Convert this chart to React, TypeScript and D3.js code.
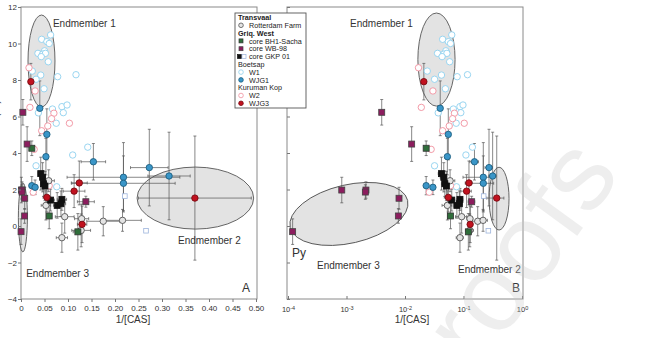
import { useEffect, useRef } from "react";
import * as d3 from "d3";

// points are [x, y, xErr, yErr]
const rotterdam = [
  [0.059, 2.48, 0.012, 0.6],
  [0.053, 1.13, 0.01, 0.8],
  [0.093, 0.51, 0.02, 0.9],
  [0.129, 0.4, 0.015, 0.8],
  [0.128, -0.24, 0.02, 0.9],
  [0.087, -0.64, 0.012, 0.8],
  [0.175, 0.26, 0.035, 0.8],
  [0.216, 0.31, 0.04, 0.6],
];
const bh1Sacha = [
  [0.023, 4.26, 0, 0.4],
  [0.06, 0.55, 0.005, 0.7],
  [0.121, -0.32, 0.01, 1.0],
];
const wb98 = [
  [0.004, 6.23, 0, 0.7],
  [0.013, 4.49, 0, 0.95],
  [0.00083, 1.97, 0, 0.7],
  [0.00215, 1.97, 0, 0.45],
  [0.0021, 1.86, 0, 0.4],
  [0.0079, 1.52, 0, 0.6],
  [0.0077, 0.55, 0, 0.4],
  [0.00012, -0.31, 0, 0.7],
  [0.138, 1.33, 0.018, 0.3],
];
const gkp01 = [
  [0.042, 2.87, 0.005, 0.9],
  [0.046, 2.67, 0.006, 0.8],
  [0.048, 2.32, 0.006, 0.7],
  [0.051, 2.19, 0.006, 0.8],
  [0.063, 1.42, 0.008, 0.6],
  [0.087, 1.46, 0.01, 0.6],
  [0.077, 1.13, 0.008, 0.7],
  [0.085, 1.22, 0.01, 0.7],
];
const gkp01Open = [
  [0.221, 1.64, 0, 0],
  [0.266, -0.26, 0, 0],
];
const w1 = [
  [0.063, 10.47], [0.044, 10.23], [0.055, 10.1], [0.06, 10.0], [0.05, 9.6],
  [0.036, 9.46], [0.046, 9.42], [0.052, 9.46], [0.043, 9.28], [0.058, 9.0],
  [0.024, 8.49], [0.042, 8.27], [0.032, 8.04], [0.078, 8.18], [0.117, 8.29],
  [0.049, 7.52], [0.067, 6.41], [0.087, 6.54], [0.098, 6.63], [0.09, 6.21],
  [0.075, 5.63], [0.142, 4.32], [0.11, 3.89], [0.032, 3.3], [0.076, 2.15],
  [0.037, 6.2],
].map((d) => [d[0], d[1], 0, 0]);
const wjg1 = [
  [0.04, 6.45, 0, 1.5],
  [0.055, 5.02, 0, 1.4],
  [0.053, 3.8, 0, 1.0],
  [0.154, 3.52, 0.026, 1.0],
  [0.273, 3.2, 0.04, 2.1],
  [0.315, 2.74, 0.045, 2.4],
  [0.218, 2.67, 0.12, 1.9],
  [0.218, 2.34, 0.11, 1.5],
  [0.023, 2.21, 0, 0.5],
  [0.03, 2.12, 0, 0.4],
];
const w2 = [
  [0.017, 8.67], [0.07, 6.18], [0.019, 6.5], [0.03, 7.4], [0.065, 5.88],
  [0.057, 5.48], [0.044, 5.22], [0.103, 5.63], [0.028, 4.2], [0.026, 1.85],
  [0.06, 2.21],
].map((d) => [d[0], d[1], 0, 0]);
const wjg3 = [
  [0.021, 7.91, 0, 1.0],
  [0.124, 2.36, 0.017, 1.2],
  [0.113, 1.91, 0.023, 0.9],
  [0.055, 1.57, 0.008, 0.8],
  [0.13, 0.09, 0.01, 1.0],
  [0.37, 1.53, 0.12, 3.4],
];

const yTicks = [-4, -2, 0, 2, 4, 6, 8, 10, 12];
const xTicksA = d3.range(0, 0.501, 0.05);
const xTicksB = [1e-4, 1e-3, 1e-2, 1e-1, 1];

// endmember fields: linear panel uses x units, log panel uses decades for rx
const ellipsesA = [
  { cx: 0.0436, cy: 9.04, rx: 0.0287, ry: 2.52, rot: 0 },
  { cx: 0.371, cy: 1.53, rx: 0.124, ry: 1.7, rot: 0 },
  { cx: 0.004, cy: 0.47, rx: 0.0096, ry: 1.89, rot: 0 },
];
const ellipsesB = [
  { cx: 0.0345, cy: 9.12, rx: 0.318, ry: 2.55, rot: 0 },
  { cx: 0.405, cy: 1.5, rx: 0.171, ry: 1.72, rot: 0 },
  { cx: 0.0011, cy: 0.66, rx: 1.03, ry: 1.6, rot: -13 },
];
const labelsA = [
  { x: 0.068, y: 10.88, t: "Endmember 1", s: 10 },
  { x: 0.334, y: -1.01, t: "Endmember 2", s: 10 },
  { x: 0.011, y: -2.82, t: "Endmember 3", s: 10 },
  { x: 0.47, y: -3.62, t: "A", s: 12 },
];
const labelsB = [
  { x: 0.00115, y: 10.88, t: "Endmember 1", s: 10 },
  { x: 0.0805, y: -2.6, t: "Endmember 2", s: 10 },
  { x: 0.000313, y: -2.38, t: "Endmember 3", s: 10 },
  { x: 0.000117, y: -1.7, t: "Py", s: 12 },
  { x: 0.676, y: -3.62, t: "B", s: 12 },
];

const series = {
  rf: { pts: rotterdam, shape: "circle", fill: "#e4e4e4", stroke: "#555" },
  bh: { pts: bh1Sacha, shape: "square", fill: "#2f6e3b", stroke: "#333" },
  wb: { pts: wb98, shape: "square", fill: "#8c1d5e", stroke: "#444" },
  gk: { pts: gkp01, shape: "square", fill: "#111", stroke: "#111" },
  gko: { pts: gkp01Open, shape: "square", fill: "#fff", stroke: "#9db4dc" },
  w1: { pts: w1, shape: "circle", fill: "#fff", stroke: "#8fd0ee" },
  j1: { pts: wjg1, shape: "circle", fill: "#3a96c8", stroke: "#1d5f80" },
  w2: { pts: w2, shape: "circle", fill: "#fff", stroke: "#f0909e" },
  j3: { pts: wjg3, shape: "circle", fill: "#c1121f", stroke: "#7a0a12" },
};
const drawOrder = ["w1", "w2", "rf", "gko", "bh", "wb", "gk", "j1", "j3"];

const legendRows = [
  { head: "Transvaal", bold: true },
  { keys: ["rf"], text: "Rotterdam Farm" },
  { head: "Griq. West", bold: true },
  { keys: ["bh"], text: "core BH1-Sacha" },
  { keys: ["wb"], text: "core WB-98" },
  { keys: ["gk", "gko"], text: "core GKP 01" },
  { head: "Boetsap", bold: false },
  { keys: ["w1"], text: "W1" },
  { keys: ["j1"], text: "WJG1" },
  { head: "Kuruman Kop", bold: false },
  { keys: ["w2"], text: "W2" },
  { keys: ["j3"], text: "WJG3" },
];

const FONT = "'Liberation Sans', Arial, sans-serif";

export default function App() {
  const svgRef = useRef(null);

  useEffect(() => {
    const svg = d3.select(svgRef.current);
    svg.selectAll("*").remove();

    const top = 7;
    const bottom = 299;
    const y = d3.scaleLinear().domain([-4, 12]).range([bottom, top]);
    const xA = d3.scaleLinear().domain([0, 0.5]).range([21, 256]);
    const xB = d3.scaleLog().domain([1e-4, 1]).range([288, 522]);

    const panels = [
      { x: xA, left: 21, right: 257, log: false, ell: ellipsesA, labels: labelsA },
      { x: xB, left: 287, right: 523, log: true, ell: ellipsesB, labels: labelsB },
    ];

    panels.forEach((p) => {
      const g = svg.append("g");
      const x = p.x;

      g.append("rect")
        .attr("x", p.left)
        .attr("y", top)
        .attr("width", p.right - p.left)
        .attr("height", bottom - top)
        .attr("fill", "#fff")
        .attr("stroke", "#8a8a8a")
        .attr("stroke-width", 1);

      // endmember fields
      p.ell.forEach((e) => {
        const cx = x(e.cx);
        const cy = y(e.cy);
        const rx = p.log ? x(e.cx * Math.pow(10, e.rx)) - cx : x(e.cx + e.rx) - cx;
        const ry = y(e.cy - e.ry) - cy;
        g.append("ellipse")
          .attr("cx", cx)
          .attr("cy", cy)
          .attr("rx", rx)
          .attr("ry", ry)
          .attr("transform", `rotate(${e.rot}, ${cx}, ${cy})`)
          .attr("fill", "#e3e3e3")
          .attr("stroke", "#555")
          .attr("stroke-width", 0.9);
      });

      // error bars
      const eb = g.append("g").attr("stroke", "#555").attr("stroke-width", 0.7);
      drawOrder.forEach((k) => {
        series[k].pts.forEach((d) => {
          const px = x(d[0]);
          const py = y(d[1]);
          if (d[3] > 0) {
            const y0 = y(d[1] + d[3]);
            const y1 = y(d[1] - d[3]);
            eb.append("line").attr("x1", px).attr("x2", px).attr("y1", y0).attr("y2", y1);
            eb.append("line").attr("x1", px - 1.5).attr("x2", px + 1.5).attr("y1", y0).attr("y2", y0);
            eb.append("line").attr("x1", px - 1.5).attr("x2", px + 1.5).attr("y1", y1).attr("y2", y1);
          }
          if (d[2] > 0) {
            const x0 = x(Math.max(d[0] - d[2], 1e-4));
            const x1 = x(d[0] + d[2]);
            eb.append("line").attr("x1", x0).attr("x2", x1).attr("y1", py).attr("y2", py);
            eb.append("line").attr("x1", x0).attr("x2", x0).attr("y1", py - 1.5).attr("y2", py + 1.5);
            eb.append("line").attr("x1", x1).attr("x2", x1).attr("y1", py - 1.5).attr("y2", py + 1.5);
          }
        });
      });

      // points
      drawOrder.forEach((k) => {
        const s = series[k];
        const sel = g.append("g").selectAll("g").data(s.pts).enter();
        if (s.shape === "circle") {
          sel.append("circle")
            .attr("cx", (d) => x(d[0]))
            .attr("cy", (d) => y(d[1]))
            .attr("r", 3.2)
            .attr("fill", s.fill)
            .attr("stroke", s.stroke)
            .attr("stroke-width", 0.9);
        } else {
          const sz = k === "gko" ? 4.6 : 6;
          sel.append("rect")
            .attr("x", (d) => x(d[0]) - sz / 2)
            .attr("y", (d) => y(d[1]) - sz / 2)
            .attr("width", sz)
            .attr("height", sz)
            .attr("fill", s.fill)
            .attr("stroke", s.stroke)
            .attr("stroke-width", 0.8);
        }
      });

      p.labels.forEach((l) => {
        g.append("text")
          .attr("x", x(l.x))
          .attr("y", y(l.y))
          .attr("font-family", FONT)
          .attr("font-size", l.s)
          .attr("fill", "#333")
          .text(l.t);
      });

      // axes
      if (!p.log) {
        const yAxis = d3.axisLeft(y).tickValues(yTicks).tickSize(3).tickPadding(1);
        g.append("g")
          .attr("transform", `translate(${p.left}, 0)`)
          .call(yAxis)
          .call((a) => a.select(".domain").remove())
          .call((a) => a.selectAll("line").attr("stroke", "#777"))
          .call((a) => a.selectAll("text").attr("font-family", FONT).attr("font-size", 8).attr("fill", "#333"));

        const xAxis = d3
          .axisBottom(x)
          .tickValues(xTicksA)
          .tickSize(3)
          .tickPadding(3)
          .tickFormat((d) => (d === 0 ? "0" : d.toFixed(2)));
        g.append("g")
          .attr("transform", `translate(0, ${bottom})`)
          .call(xAxis)
          .call((a) => a.select(".domain").remove())
          .call((a) => a.selectAll("line").attr("stroke", "#777"))
          .call((a) => a.selectAll("text").attr("font-family", FONT).attr("font-size", 8).attr("fill", "#333"));
      } else {
        const yAxis = d3.axisLeft(y).tickValues(yTicks).tickSize(-3).tickFormat(() => "");
        g.append("g")
          .attr("transform", `translate(${p.left}, 0)`)
          .call(yAxis)
          .call((a) => a.select(".domain").remove())
          .call((a) => a.selectAll("line").attr("stroke", "#777"));

        const xAxis = d3.axisBottom(x).tickValues(xTicksB).tickSize(-3).tickPadding(6).tickFormat(() => "");
        const ax = g.append("g")
          .attr("transform", `translate(0, ${bottom})`)
          .call(xAxis)
          .call((a) => a.select(".domain").remove())
          .call((a) => a.selectAll("line").attr("stroke", "#777"));
        ax.selectAll(".tick text").each(function (d) {
          const t = d3.select(this);
          t.attr("font-family", FONT).attr("font-size", 7.5).attr("fill", "#333").attr("y", 8).attr("dy", "0.71em");
          t.append("tspan").text("10");
          t.append("tspan")
            .attr("font-size", 5.5)
            .attr("dy", "-0.5em")
            .text(String(Math.round(Math.log10(d))));
        });
      }

      g.append("text")
        .attr("x", p.log ? 412 : 133)
        .attr("y", 323)
        .attr("text-anchor", "middle")
        .attr("font-family", FONT)
        .attr("font-size", 10)
        .attr("fill", "#333")
        .text("1/[CAS]");
    });

    // y title, mostly cut off by the page edge
    svg.append("text")
      .attr("transform", "translate(-1, 120) rotate(-90)")
      .attr("text-anchor", "middle")
      .attr("font-family", FONT)
      .attr("font-size", 10)
      .attr("fill", "#333")
      .text("Δ³³S (‰)");

    // legend
    const lg = svg.append("g");
    lg.append("rect")
      .attr("x", 235)
      .attr("y", 13)
      .attr("width", 71)
      .attr("height", 95)
      .attr("fill", "#fff")
      .attr("stroke", "#555")
      .attr("stroke-width", 0.9);
    legendRows.forEach((r, i) => {
      const cy = 17.5 + i * 7.8;
      if (r.head) {
        lg.append("text")
          .attr("x", 238)
          .attr("y", cy + 2.6)
          .attr("font-family", FONT)
          .attr("font-size", 7.2)
          .attr("font-weight", r.bold ? "bold" : "normal")
          .attr("fill", "#222")
          .text(r.head);
        return;
      }
      r.keys.forEach((k, j) => {
        const s = series[k];
        const cx = r.keys.length > 1 ? 239.5 + j * 4.5 : 241;
        if (s.shape === "circle") {
          lg.append("circle")
            .attr("cx", cx)
            .attr("cy", cy)
            .attr("r", 2.3)
            .attr("fill", s.fill)
            .attr("stroke", s.stroke)
            .attr("stroke-width", 0.8);
        } else {
          lg.append("rect")
            .attr("x", cx - 2)
            .attr("y", cy - 2)
            .attr("width", 4)
            .attr("height", 4)
            .attr("fill", s.fill)
            .attr("stroke", s.stroke)
            .attr("stroke-width", 0.7);
        }
      });
      lg.append("text")
        .attr("x", 249)
        .attr("y", cy + 2.6)
        .attr("font-family", FONT)
        .attr("font-size", 7.2)
        .attr("fill", "#222")
        .text(r.text);
    });

    // watermark
    svg.append("text")
      .attr("transform", "translate(478, 372) rotate(-54)")
      .attr("font-family", FONT)
      .attr("font-size", 110)
      .attr("fill", "#c8c8c8")
      .attr("opacity", 0.3)
      .text("roofs");
  }, []);

  return (
    <svg
      ref={svgRef}
      width={651}
      height={338}
      style={{ position: "absolute", left: 0, top: 0, background: "#fff" }}
    ></svg>
  );
}
